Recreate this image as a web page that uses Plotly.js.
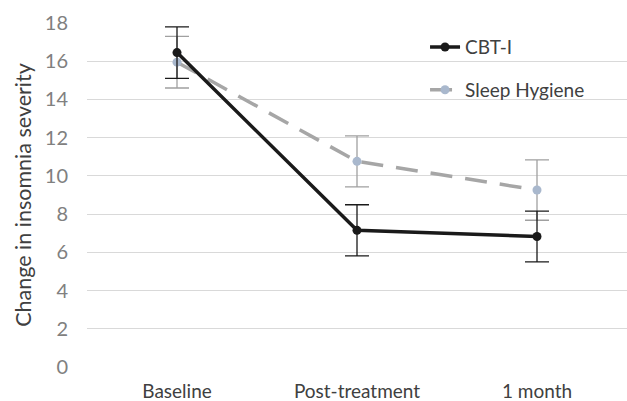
<!DOCTYPE html>
<html>
<head>
<meta charset="utf-8">
<script src="https://cdn.plot.ly/plotly-3.0.1.min.js"></script>
<style>html,body{margin:0;padding:0;background:#fff;}#chart{width:627px;height:401px;}</style>
</head>
<body>
<div id="chart"></div>
<script>
const categories = ["Baseline", "Post-treatment", "1 month"];
const cbtValues = [16.45, 7.15, 6.83];
const cbtErrors = [1.35, 1.34, 1.33];
const hygieneValues = [15.95, 10.76, 9.26];
const hygieneErrors = [1.35, 1.33, 1.58];
const yTicks = [0, 2, 4, 6, 8, 10, 12, 14, 16, 18];

const FONT = "Lato, 'Noto Sans', sans-serif";

const traces = [
  {
    name: "Sleep Hygiene",
    legendgroup: "b",
    legendrank: 2,
    x: categories,
    y: hygieneValues,
    type: "scatter",
    mode: "lines+markers",
    line: {color: "#a6a6a6", width: 3.5, dash: "22px,13px"},
    marker: {color: "#a9b8cd", size: 9},
    error_y: {type: "data", array: hygieneErrors, visible: true, color: "#a0a0a0", thickness: 1.3, width: 12}
  },
  {
    name: "CBT-I",
    legendgroup: "a",
    legendrank: 1,
    x: categories,
    y: cbtValues,
    type: "scatter",
    mode: "lines+markers",
    line: {color: "#1a1a1a", width: 3.5},
    marker: {color: "#1a1a1a", size: 9},
    error_y: {type: "data", array: cbtErrors, visible: true, color: "#1a1a1a", thickness: 1.3, width: 12}
  }
];

const layout = {
  width: 627,
  height: 401,
  margin: {l: 87, r: 0, t: 23, b: 34},
  paper_bgcolor: "#ffffff",
  plot_bgcolor: "#ffffff",
  font: {family: FONT, color: "#404040"},
  showlegend: true,
  legend: {
    x: 0.626, y: 0.985, xanchor: "left", yanchor: "top",
    traceorder: "grouped",
    tracegroupgap: 15,
    font: {family: FONT, size: 19, color: "#404040"},
    bgcolor: "rgba(0,0,0,0)"
  },
  xaxis: {
    type: "category",
    range: [-0.5, 2.5],
    showgrid: false,
    zeroline: false,
    showline: false,
    ticks: "",
    ticklabelstandoff: 11,
    tickfont: {family: FONT, size: 19, color: "#404040"}
  },
  yaxis: {
    range: [0, 18],
    tickvals: yTicks,
    showgrid: true,
    gridcolor: "#d9d9d9",
    gridwidth: 1,
    zeroline: false,
    showline: false,
    ticks: "",
    ticklabelstandoff: 18,
    tickfont: {family: FONT, size: 20, color: "#808080"},
    title: {text: "Change in insomnia severity", font: {family: FONT, size: 21.5, color: "#404040"}, standoff: 7}
  }
};

Plotly.newPlot("chart", traces, layout, {displayModeBar: false, staticPlot: true});
</script>
</body>
</html>
